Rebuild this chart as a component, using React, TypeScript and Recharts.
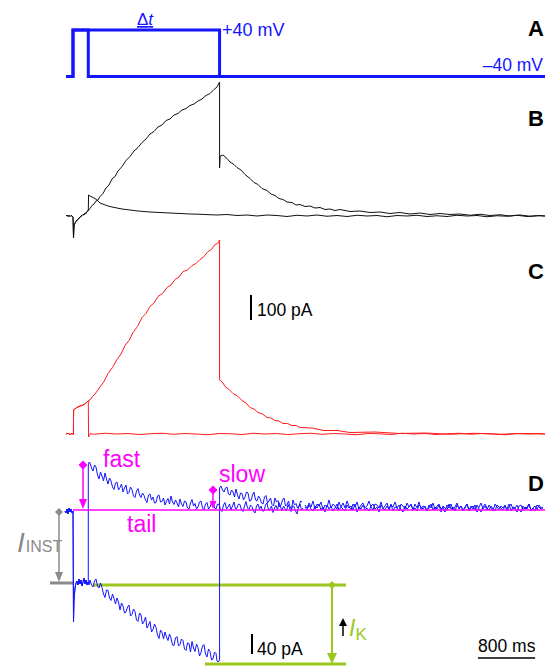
import React from 'react';
import { LineChart, Line, XAxis, YAxis, ReferenceLine, ReferenceDot } from 'recharts';

// time in ms from the step onset; A in mV, B/C/D in pA
type Pt = [number, number];

// A: voltage protocols (holding -40 mV, step to +40 mV)
const protoShort: Pt[] = [[-84, -40], [14, -40], [14, 40], [228, 40], [228, -40], [6622, -40]];
const protoLong: Pt[] = [[-84, -40], [14, -40], [14, 40], [2066, 40], [2066, -40], [6622, -40]];

// B: black traces
const bShort: Pt[] = [
  [-84, 0], [-70, 4], [-56, -2], [-42, 3], [-28, -2], [-14, 2], [0, 0], [14, -4], [21, -88], [28, -40], [42, -28],
  [56, -22], [70, -16], [84, -14], [98, -8], [112, -6], [126, 0], [140, 2], [154, 6], [168, 4], [182, 12], [196, 10],
  [210, 18], [228, 20], [232, 84], [252, 80], [280, 76], [322, 70], [364, 60], [392, 52], [448, 46], [504, 40],
  [560, 36], [630, 32], [700, 28], [812, 24], [924, 20], [1092, 16], [1232, 14], [1372, 12], [1512, 10], [1652, 8],
  [1792, 7], [1932, 5], [2030, 4], [2170, 6], [2310, 2], [2450, 4], [2590, 0], [2730, 4], [2870, 2], [3010, -2],
  [3150, 3], [3290, 0], [3430, 4], [3570, -1], [3710, 2], [3850, -2], [3990, 3], [4130, 0], [4270, 2], [4410, -3],
  [4550, 2], [4690, 0], [4830, 3], [4970, -2], [5110, 1], [5250, -2], [5390, 3], [5530, 0], [5670, 2], [5810, -3],
  [5950, 1], [6090, -1], [6230, 3], [6370, -2], [6510, 1], [6622, 0],
];
const bLong: Pt[] = [
  [-84, 0], [-70, 4], [-56, -2], [-42, 3], [-28, -2], [-14, 2], [0, 0], [14, -4], [21, -88], [28, -40], [42, -28],
  [56, -22], [70, -16], [84, -14], [98, -8], [112, -6], [126, 0], [140, 2], [154, 6], [168, 4], [182, 12], [196, 10],
  [210, 18], [228, 22], [252, 30], [280, 42], [308, 48], [336, 60], [364, 64], [392, 78], [434, 90], [476, 112],
  [518, 124], [560, 148], [602, 158], [644, 180], [700, 198], [756, 222], [812, 238], [868, 260], [924, 274],
  [980, 294], [1036, 308], [1092, 328], [1148, 338], [1204, 356], [1260, 364], [1316, 382], [1372, 388], [1428, 404],
  [1484, 410], [1540, 424], [1596, 430], [1652, 442], [1708, 448], [1764, 460], [1820, 468], [1876, 482], [1932, 490],
  [1988, 506], [2030, 516], [2066, 536], [2066, 192], [2075, 240], [2114, 244], [2170, 230], [2212, 216], [2268, 206],
  [2310, 194], [2366, 184], [2422, 166], [2492, 150], [2548, 134], [2604, 126], [2660, 110], [2730, 102], [2786, 88],
  [2842, 82], [2898, 70], [2954, 66], [3010, 56], [3080, 54], [3136, 44], [3192, 46], [3262, 38], [3332, 40],
  [3402, 32], [3472, 34], [3542, 26], [3612, 28], [3682, 22], [3752, 26], [3892, 18], [4032, 20], [4172, 14],
  [4312, 16], [4452, 10], [4592, 14], [4732, 8], [4872, 12], [5012, 6], [5152, 10], [5292, 6], [5432, 8], [5572, 3],
  [5712, 7], [5852, 2], [5992, 5], [6132, 0], [6272, 4], [6412, -1], [6552, 2], [6622, 0],
];

// C: red traces
const cShort: Pt[] = [
  [-84, 0], [-56, 3], [-28, -2], [0, 2], [14, 0], [20, -2], [22, 92], [28, 98], [42, 100], [56, 104], [84, 108],
  [112, 112], [140, 114], [168, 118], [196, 124], [224, 132], [228, 132], [232, -12], [244, -6], [260, 2], [300, -1],
  [460, 3], [620, 0], [780, 2], [940, -2], [1100, 1], [1260, 3], [1420, -1], [1580, 2], [1740, 0], [1900, -3],
  [2060, 2], [2220, 1], [2380, -2], [2540, 3], [2700, 0], [2860, 2], [3020, -2], [3180, 1], [3340, 3], [3500, -1],
  [3660, 2], [3820, 0], [3980, -3], [4140, 2], [4300, 1], [4460, -2], [4620, 3], [4780, 0], [4940, 2], [5100, -2],
  [5260, 1], [5420, 3], [5580, -1], [5740, 2], [5900, 0], [6060, -3], [6220, 2], [6380, 0], [6540, 2], [6622, 0],
];
const cLong: Pt[] = [
  [-84, 0], [-56, 3], [-28, -2], [0, 2], [14, 0], [20, -2], [22, 92], [28, 98], [42, 100], [56, 104], [84, 108],
  [112, 112], [140, 114], [168, 118], [196, 124], [224, 132], [252, 136], [287, 150], [322, 160], [357, 174],
  [392, 188], [448, 210], [504, 242], [567, 266], [630, 298], [686, 320], [742, 354], [798, 374], [854, 406],
  [917, 430], [980, 466], [1036, 482], [1092, 510], [1148, 524], [1204, 550], [1267, 562], [1330, 586], [1386, 596],
  [1442, 618], [1498, 628], [1554, 650], [1617, 656], [1680, 674], [1736, 682], [1792, 698], [1848, 710], [1904, 730],
  [1953, 738], [2002, 758], [2040, 762], [2066, 776], [2066, 216], [2086, 212], [2114, 204], [2142, 190], [2198, 178],
  [2254, 162], [2317, 152], [2380, 134], [2436, 124], [2492, 106], [2548, 100], [2604, 86], [2667, 80], [2730, 66],
  [2786, 64], [2842, 54], [2898, 52], [2954, 42], [3017, 42], [3080, 34], [3136, 34], [3192, 26], [3360, 24],
  [3528, 14], [3710, 14], [3892, 6], [4242, 8], [4592, 2], [4942, 4], [5292, -1], [5642, 3], [5992, -1], [6300, 2],
  [6622, 0],
];

// D: blue traces (pA relative to the tail baseline)
const dShort: Pt[] = [
  [-98, -2], [-84, -6], [-70, 2], [-56, -8], [-42, 4], [-28, -4], [-14, 2], [0, -6], [14, -2], [21, -224], [28, -180],
  [42, -156], [56, -146], [70, -142], [84, -150], [98, -138], [112, -148], [126, -140], [140, -152], [154, -144],
  [168, -136], [182, -148], [196, -140], [210, -150], [224, -144], [228, -146], [228, 90], [240, 96],
  [252, 94], [273, 84], [294, 78], [315, 90], [336, 86], [357, 70], [378, 62], [399, 76], [420, 68], [441, 58],
  [462, 74], [483, 62], [504, 52], [525, 64], [546, 58], [567, 46], [588, 41], [609, 54], [630, 56], [651, 40],
  [672, 45], [693, 52], [714, 36], [735, 44], [756, 50], [777, 32], [798, 35], [819, 46], [840, 41], [861, 28],
  [882, 25], [903, 38], [924, 43], [945, 30], [966, 25], [987, 34], [1008, 29], [1029, 20], [1050, 15], [1071, 30],
  [1092, 32], [1113, 20], [1134, 26], [1155, 14], [1176, 15], [1197, 28], [1218, 30], [1239, 16], [1260, 17],
  [1281, 24], [1302, 10], [1323, 18], [1344, 23], [1365, 12], [1386, 28], [1407, 16], [1428, 11], [1449, 20],
  [1470, 14], [1491, 6], [1512, 22], [1533, 12], [1554, 7], [1575, 18], [1596, 16], [1617, 4], [1638, 2], [1659, 14],
  [1680, 21], [1701, 8], [1722, 13], [1743, 2], [1764, 6], [1785, 16], [1806, 18], [1827, 4], [1848, 1], [1869, 12],
  [1890, 15], [1911, 2], [1932, 6], [1953, 14], [1974, 18], [1995, 4], [2016, 2], [2037, 12], [2058, 11], [2079, 0],
  [2100, -3], [2121, 10], [2142, 15], [2163, 2], [2184, 6], [2205, 12], [2226, 0], [2247, 8], [2268, 16], [2289, 2],
  [2310, 4], [2331, 12], [2352, 11], [2373, 0], [2394, -3], [2415, 8], [2436, 17], [2457, 4], [2478, 1], [2499, 10],
  [2520, 7], [2541, -2], [2562, -6], [2583, 8], [2604, 12], [2625, 2], [2646, 8], [2667, -2], [2688, -2], [2709, 10],
  [2730, 14], [2751, 0], [2772, 2], [2793, 8], [2814, -5], [2835, 4], [2856, 9], [2877, 0], [2898, 15], [2919, 6],
  [2940, -1], [2961, 8], [2982, 3], [3003, -2], [3024, 11], [3045, 4], [3066, -3], [3087, 8], [3108, 7], [3129, -2],
  [3150, -8], [3171, 6], [3192, 12], [3213, 0], [3234, 4],
];
const dShortTail = [
  6, 0, 10, 2, -2, 8, 4, 12, 0, 6, -4, 10, 2, 8, -2, 4, 12, 0, 6, 2,
  -2, 10, 4, 8, 0, 12, -4, 6, 2, 10, 0, 4, -2, 8, 12, 2, 6, -4, 10, 4,
  0, 8, 2, 12, -2, 6, 4, 10, 0, -4, 8, 2, 6, 12, 0, 4, -2, 10, 6, 2,
  8, -2, 4, 12, 0, 6, 2, 10, -4, 8, 4, 0, 12, 2, 6, -2, 10, 4, 8, 0,
  6, 12, -2, 4, 8, 0, 10, 2, -4, 6, 12, 4, 0, 8, 2, -2, 10, 6, 4, 0,
  8, 2, 12, -2, 6, 4, 10, 0, -4, 8, 2, 6, 12, 0, 4, -2, 10, 6, 2, 4,
];
const dLong: Pt[] = [
  [-98, -2], [-84, -6], [-70, 2], [-56, -8], [-42, 4], [-28, -4], [-14, 2], [0, -6], [14, -2], [21, -224], [28, -180],
  [42, -156], [56, -146], [70, -142], [84, -150], [98, -138], [112, -148], [126, -140], [140, -152], [154, -144],
  [168, -136], [182, -148], [196, -140], [210, -150], [224, -144], [238, -150],
  [252, -140], [273, -150], [294, -154], [315, -142], [336, -138], [357, -152], [378, -156], [399, -146], [420, -155],
  [441, -168], [462, -175], [483, -160], [504, -161], [525, -176], [546, -181], [567, -168], [588, -177], [609, -188],
  [630, -176], [651, -184], [672, -200], [693, -186], [714, -192], [735, -206], [756, -204], [777, -194], [798, -190],
  [819, -212], [840, -209], [861, -198], [882, -203], [903, -220], [924, -223], [945, -206], [966, -210], [987, -228],
  [1008, -223], [1029, -214], [1050, -236], [1071, -230], [1092, -223], [1113, -244], [1134, -239], [1155, -228],
  [1176, -235], [1197, -250], [1218, -257], [1239, -240], [1260, -245], [1281, -258], [1302, -244], [1323, -254],
  [1344, -261], [1365, -248], [1386, -256], [1407, -270], [1428, -271], [1449, -256], [1470, -253], [1491, -272],
  [1512, -269], [1533, -258], [1554, -261], [1575, -278], [1596, -281], [1617, -266], [1638, -267], [1659, -284],
  [1680, -263], [1701, -276], [1722, -283], [1743, -268], [1764, -275], [1785, -292], [1806, -285], [1827, -272],
  [1848, -269], [1869, -288], [1890, -294], [1911, -278], [1932, -283], [1953, -300], [1974, -298], [1995, -284],
  [2016, -287], [2030, -302], [2044, -304], [2066, -300], [2066, 44],
  [2086, 48], [2107, 40], [2128, 36], [2149, 44], [2170, 46], [2191, 32], [2212, 30], [2233, 40], [2254, 36],
  [2275, 26], [2296, 42], [2317, 30], [2338, 22], [2359, 34], [2380, 33], [2401, 20], [2422, 26], [2443, 36],
  [2464, 34], [2485, 18], [2506, 19], [2527, 30], [2548, 36], [2569, 20], [2590, 18], [2611, 28], [2632, 23],
  [2653, 14], [2674, 12], [2695, 26], [2716, 29], [2737, 14], [2758, 18], [2779, 24], [2800, 11], [2821, 8],
  [2842, 24], [2863, 16], [2884, 19], [2905, 6], [2926, 10], [2947, 20], [2968, 24], [2989, 8], [3010, 11],
  [3031, 18], [3052, 6], [3073, 2], [3094, 20], [3115, 10], [3136, 13], [3157, 4], [3178, 7], [3199, 18], [3220, 16],
];
const dLongTail = [
  10, 4, 14, 6, 18, 2, 12, 8, 16, 0, 10, 6, 20, 4, 12, 8, 2, 16, 6, 14,
  4, 18, 8, 0, 12, 6, 16, 2, 10, 14, 4, 8, 18, 6, 0, 12, 10, 4, 16, 2,
  8, 14, 0, 10, 6, 16, 4, -2, 12, 8, 2, 14, 6, 10, 0, 12, 4, 16, 2, 8,
  6, -2, 10, 4, 14, 0, 8, 12, 2, 6, -4, 10, 4, 12, 0, 6, 14, 2, 8, -2,
  4, 12, 0, 8, 2, 10, -4, 6, 14, 2, 8, 0, 10, 4, -2, 12, 6, 0, 8, 4,
  10, -2, 6, 12, 2, 4, -4, 8, 10, 0, 6, 2, 12, -2, 4, 8, 0, 10, 4, 6,
];
// tails are sampled every 28 ms from 3262 ms
const tailStart = 3262;
const tailStep = 28;

// D annotations (ms, pA)
const tailLevel = 0;
const instLevel = -146;
const instT = -182;
const instSpan: [number, number] = [-308, 14];
const fastPeak: Pt = [154, 90];
const slowPeak: Pt = [1974, 40];
const ikT = 3640;
const ikTop = -150;
const ikBottom = -308;
const ikTopSpan: [number, number] = [294, 3836];
const ikBottomSpan: [number, number] = [1862, 3836];

// scale bars
const cBarT = 2506;
const cBar: [number, number] = [456, 556]; // 100 pA
const dBarT = 2520;
const dBar: [number, number] = [-288, -248]; // 40 pA
const timeBar: [number, number] = [5684, 6484]; // 800 ms
const timeBarLevel = -296;

const T_DOMAIN: [number, number] = [-1008, 6692];
const BLUE = '#1414ff';
const MAGENTA = '#ff00ff';
const GRAY = '#8a8a8a';
const LIME = '#9cc81e';
const FONT = 'Arial, "Liberation Sans", sans-serif';

const rows = (pts: Pt[]) => pts.map(([t, v]) => ({ t, v }));
const tailRows = (vals: number[]) => vals.map((v, i) => ({ t: tailStart + i * tailStep, v }));

const diamond = (color: string, s: number) => (p: any) => (
  <polygon points={`${p.cx},${p.cy - s} ${p.cx + s},${p.cy} ${p.cx},${p.cy + s} ${p.cx - s},${p.cy}`} fill={color} />
);
const arrowDown = (color: string, w: number, h: number) => (p: any) => (
  <polygon points={`${p.cx - w},${p.cy - h} ${p.cx + w},${p.cy - h} ${p.cx},${p.cy}`} fill={color} />
);

const Panel: React.FC<{ top: number; height: number; yDomain: [number, number]; children: React.ReactNode }> = ({
  top,
  height,
  yDomain,
  children,
}) => (
  <div style={{ position: 'absolute', left: 0, top }}>
    <LineChart width={550} height={height} margin={{ top: 0, right: 0, bottom: 0, left: 0 }}>
      <XAxis type="number" dataKey="t" domain={T_DOMAIN} hide allowDataOverflow />
      <YAxis type="number" domain={yDomain} hide allowDataOverflow />
      {children}
    </LineChart>
  </div>
);

const trace = (data: Pt[] | { t: number; v: number }[], color: string, width: number, key: string) => (
  <Line
    key={key}
    data={Array.isArray(data[0]) ? rows(data as Pt[]) : (data as any)}
    dataKey="v"
    type="linear"
    stroke={color}
    strokeWidth={width}
    dot={false}
    activeDot={false}
    isAnimationActive={false}
  />
);

export default function App() {
  return (
    <div style={{ position: 'absolute', left: 0, top: 0, width: 550, height: 666, background: '#fff', overflow: 'hidden' }}>
      <Panel top={0} height={100} yDomain={[-80.4, 91.6]}>
        {trace(protoLong, BLUE, 3, 'al')}
        {trace(protoShort, BLUE, 3, 'as')}
      </Panel>

      <Panel top={60} height={200} yDomain={[-176, 624]}>
        {trace(bShort, '#111', 1, 'bs')}
        {trace(bLong, '#111', 1, 'bl')}
      </Panel>

      <Panel top={225} height={220} yDomain={[-44, 836]}>
        {trace(cShort, '#ff1a1a', 1, 'cs')}
        {trace(cLong, '#ff1a1a', 1, 'cl')}
        <ReferenceLine segment={[{ x: cBarT, y: cBar[0] }, { x: cBarT, y: cBar[1] }]} stroke="#000" strokeWidth={2} ifOverflow="visible" />
      </Panel>

      <Panel top={440} height={226} yDomain={[-312, 140]}>
        {/* annotations under the traces */}
        <ReferenceLine segment={[{ x: instSpan[0], y: instLevel }, { x: instSpan[1], y: instLevel }]} stroke={GRAY} strokeWidth={3} ifOverflow="visible" />
        <ReferenceLine segment={[{ x: instT, y: -4 }, { x: instT, y: instLevel + 8 }]} stroke={GRAY} strokeWidth={1.5} ifOverflow="visible" />
        <ReferenceDot x={instT} y={instLevel + 2} shape={arrowDown(GRAY, 4, 10)} ifOverflow="visible" />
        <ReferenceDot x={instT} y={-4} shape={diamond(GRAY, 4)} ifOverflow="visible" />

        <ReferenceLine segment={[{ x: ikTopSpan[0], y: ikTop }, { x: ikTopSpan[1], y: ikTop }]} stroke={LIME} strokeWidth={3} ifOverflow="visible" />
        <ReferenceLine segment={[{ x: ikBottomSpan[0], y: ikBottom }, { x: ikBottomSpan[1], y: ikBottom }]} stroke={LIME} strokeWidth={3} ifOverflow="visible" />
        <ReferenceLine segment={[{ x: ikT, y: ikTop }, { x: ikT, y: ikBottom + 8 }]} stroke={LIME} strokeWidth={2} ifOverflow="visible" />
        <ReferenceDot x={ikT} y={ikBottom} shape={arrowDown(LIME, 5, 11)} ifOverflow="visible" />
        <ReferenceDot x={ikT} y={ikTop} shape={diamond(LIME, 4)} ifOverflow="visible" />

        {trace(dShort, BLUE, 1, 'ds')}
        {trace(tailRows(dShortTail), BLUE, 1, 'dst')}
        {trace(dLong, BLUE, 1, 'dl')}
        {trace(tailRows(dLongTail), BLUE, 1, 'dlt')}

        <ReferenceLine segment={[{ x: 14, y: tailLevel }, { x: 6622, y: tailLevel }]} stroke={MAGENTA} strokeWidth={1.5} ifOverflow="visible" />
        <ReferenceLine segment={[{ x: fastPeak[0], y: fastPeak[1] }, { x: fastPeak[0], y: tailLevel + 8 }]} stroke={MAGENTA} strokeWidth={1.5} ifOverflow="visible" />
        <ReferenceDot x={fastPeak[0]} y={tailLevel + 2} shape={arrowDown(MAGENTA, 4, 10)} ifOverflow="visible" />
        <ReferenceDot x={fastPeak[0]} y={fastPeak[1]} shape={diamond(MAGENTA, 4.5)} ifOverflow="visible" />
        <ReferenceLine segment={[{ x: slowPeak[0], y: slowPeak[1] }, { x: slowPeak[0], y: tailLevel + 8 }]} stroke={MAGENTA} strokeWidth={1.5} ifOverflow="visible" />
        <ReferenceDot x={slowPeak[0]} y={tailLevel + 2} shape={arrowDown(MAGENTA, 3.5, 8)} ifOverflow="visible" />
        <ReferenceDot x={slowPeak[0]} y={slowPeak[1]} shape={diamond(MAGENTA, 4.5)} ifOverflow="visible" />

        <ReferenceLine segment={[{ x: dBarT, y: dBar[0] }, { x: dBarT, y: dBar[1] }]} stroke="#000" strokeWidth={2} ifOverflow="visible" />
        <ReferenceLine segment={[{ x: timeBar[0], y: timeBarLevel }, { x: timeBar[1], y: timeBarLevel }]} stroke="#000" strokeWidth={1.5} ifOverflow="visible" />
      </Panel>

      <svg width={550} height={666} style={{ position: 'absolute', left: 0, top: 0, pointerEvents: 'none' }} fontFamily={FONT}>
        <text x={137} y={25} fontSize={17} fill={BLUE} textDecoration="underline">
          Δ<tspan fontStyle="italic">t</tspan>
        </text>
        <text x={222} y={36} fontSize={18} fill={BLUE}>+40 mV</text>
        <text x={543} y={71} fontSize={17.5} fill={BLUE} textAnchor="end">–40 mV</text>

        <text x={544} y={36} fontSize={22} fontWeight="bold" textAnchor="end">A</text>
        <text x={544} y={126} fontSize={22} fontWeight="bold" textAnchor="end">B</text>
        <text x={544} y={279} fontSize={22} fontWeight="bold" textAnchor="end">C</text>
        <text x={544} y={491} fontSize={22} fontWeight="bold" textAnchor="end">D</text>

        <text x={257} y={316} fontSize={17.5}>100 pA</text>
        <text x={257} y={655} fontSize={17.5}>40 pA</text>
        <text x={478} y={652} fontSize={17.5}>800 ms</text>

        <text x={103} y={467} fontSize={23} fill={MAGENTA}>fast</text>
        <text x={219} y={482} fontSize={23} fill={MAGENTA}>slow</text>
        <text x={127} y={532} fontSize={23} fill={MAGENTA}>tail</text>

        <text x={17} y={552} fill={GRAY}>
          <tspan fontSize={28} fontStyle="italic">I</tspan>
          <tspan fontSize={16} dx={1}>INST</tspan>
        </text>

        <path d="M343 636 L343 624" stroke="#000" strokeWidth={1.5} />
        <polygon points="339,626 347,626 343,618" fill="#000" />
        <text x={349} y={636} fill={LIME}>
          <tspan fontSize={23} fontStyle="italic">I</tspan>
          <tspan fontSize={17} dy={4}>K</tspan>
        </text>
      </svg>
    </div>
  );
}
